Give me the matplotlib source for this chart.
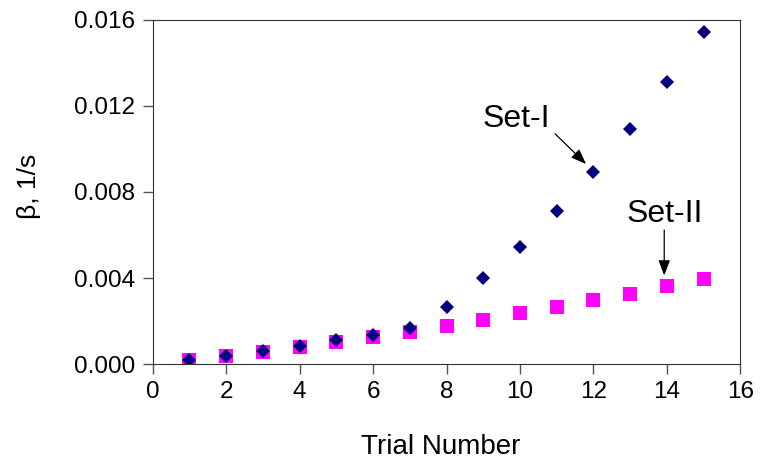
import matplotlib.pyplot as plt

plt.rcParams["font.family"] = ["Liberation Sans", "DejaVu Sans"]

trial = [1, 2, 3, 4, 5, 6, 7, 8, 9, 10, 11, 12, 13, 14, 15]
beta_set1 = [0.0002, 0.00039, 0.0006, 0.00082, 0.0011, 0.00136, 0.00169, 0.00267,
             0.0040, 0.00546, 0.00712, 0.00892, 0.01093, 0.0131, 0.01543]
beta_set2 = [0.00019, 0.00037, 0.00057, 0.0008, 0.00102, 0.00127, 0.0015, 0.00179,
             0.00206, 0.00236, 0.00267, 0.00296, 0.00327, 0.00363, 0.00397]

fig = plt.figure(figsize=(7.6, 4.62), dpi=100)
ax = fig.add_axes([0.201, 0.212, 0.773, 0.745])

ax.plot(trial, beta_set2, linestyle="none", marker="s", markersize=10,
        color="#FF00FF", markeredgewidth=0)
ax.plot(trial, beta_set1, linestyle="none", marker="D", markersize=7.6,
        color="#000080", markeredgewidth=0)

ax.set_xlim(0, 16)
ax.set_ylim(0, 0.016)
ax.set_xticks(range(0, 17, 2))
ax.set_yticks([0.0, 0.004, 0.008, 0.012, 0.016])
ax.set_yticklabels(["0.000", "0.004", "0.008", "0.012", "0.016"])
ax.tick_params(labelsize=17.5, direction="out", length=7.5, width=1.0,
               color="#555555", pad=5)

for sp in ax.spines.values():
    sp.set_color("#333333")

ax.set_xlabel("Trial Number", fontsize=20, va="center")
ax.xaxis.set_label_coords(0.49, -0.241)
ax.set_ylabel("β, 1/s", fontsize=19, va="center")
ax.yaxis.set_label_coords(-0.21, 0.515)

arrow = dict(arrowstyle="-|>,head_length=0.42,head_width=0.16", color="black",
             lw=0.9, mutation_scale=22, shrinkA=0, shrinkB=0)
ax.text(9.89, 0.0114, "Set-I", fontsize=23, ha="center", va="center")
ax.annotate("", xy=(11.8, 0.0093), xytext=(10.96, 0.0107), arrowprops=arrow)
ax.text(13.95, 0.00698, "Set-II", fontsize=23, ha="center", va="center")
ax.annotate("", xy=(13.93, 0.00412), xytext=(13.93, 0.00623), arrowprops=arrow)

fig.savefig("out.png", dpi=100)
